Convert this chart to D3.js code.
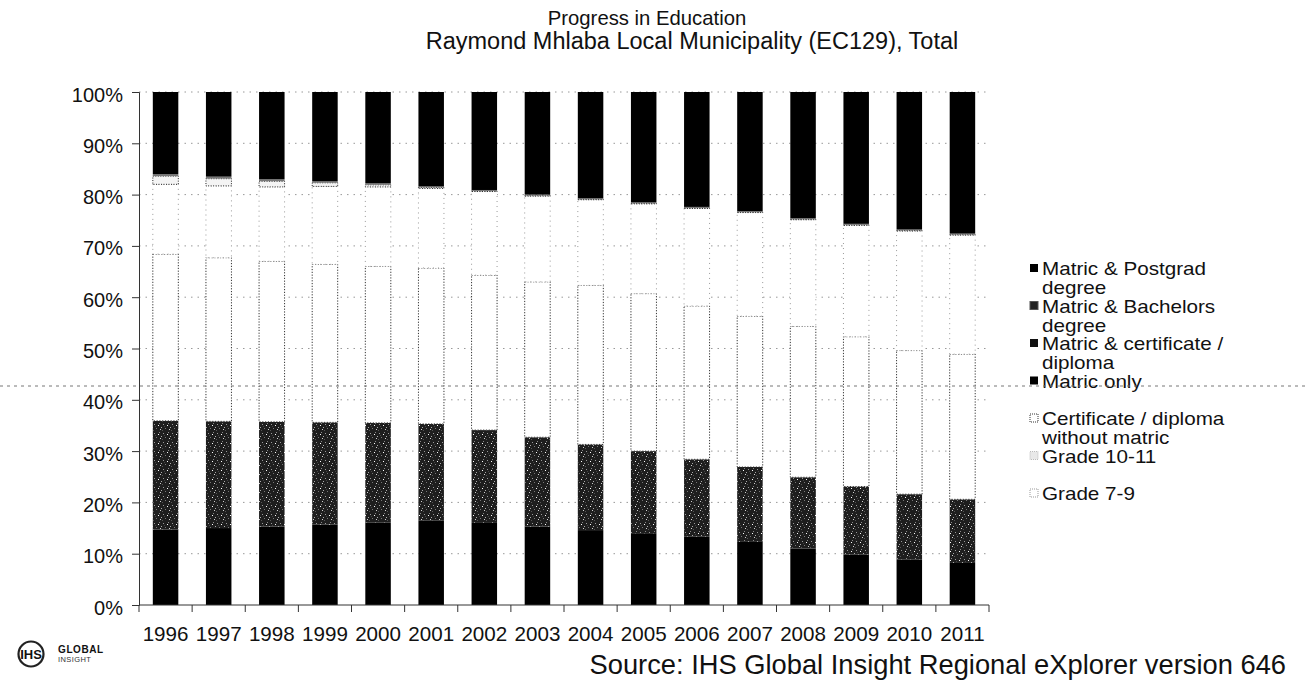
<!DOCTYPE html>
<html>
<head>
<meta charset="utf-8">
<script src="https://cdn.jsdelivr.net/npm/d3@7"></script>
<style>
  html, body { margin: 0; padding: 0; background: #fff; }
  svg { display: block; font-family: "Liberation Sans", Arial, sans-serif; }
</style>
</head>
<body>
<svg id="chart" width="1307" height="684"></svg>
<script>
// ---- data (percent of population, stacked bottom to top) ----
const years = ["1996","1997","1998","1999","2000","2001","2002","2003","2004","2005","2006","2007","2008","2009","2010","2011"];

const grade7to9        = [14.7,15.0,15.3,15.7,16.1,16.5,16.0,15.3,14.6,14.0,13.3,12.3,11.0, 9.8, 8.9, 8.2];
const grade10to11      = [21.2,20.8,20.4,19.9,19.4,18.8,18.1,17.4,16.7,16.0,15.1,14.6,13.9,13.3,12.7,12.4];
const certNoMatric     = [32.5,31.9,31.3,30.8,30.5,30.4,30.2,30.3,31.0,30.7,29.9,29.4,29.4,29.2,28.0,28.3];
const matricOnly       = [13.6,14.0,14.5,15.2,15.5,15.5,16.3,16.7,16.7,17.5,19.0,20.2,20.8,21.7,23.3,23.2];
const matricCert       = [ 1.6, 1.4, 1.1, 0.7, 0.4, 0.2, 0.1, 0.1, 0.1, 0.1, 0.1, 0.1, 0.1, 0.1, 0.1, 0.1];
const matricBachelors  = [ 0.4, 0.4, 0.4, 0.3, 0.3, 0.2, 0.2, 0.2, 0.2, 0.2, 0.2, 0.2, 0.2, 0.2, 0.2, 0.2];
const matricPostgrad   = [16.0,16.5,17.0,17.4,17.8,18.4,19.1,20.0,20.7,21.5,22.4,23.2,24.6,25.7,26.8,27.6];

const seriesKeys = ["g79","g1011","certNoMatric","matricOnly","matricCert","bachelors","postgrad"];
const seriesValues = [grade7to9, grade10to11, certNoMatric, matricOnly, matricCert, matricBachelors, matricPostgrad];

// legend, listed top to bottom as in the stack
const legendLabels = [
  ["Matric & Postgrad", "degree"],
  ["Matric & Bachelors", "degree"],
  ["Matric & certificate /", "diploma"],
  ["Matric only"],
  ["Certificate / diploma", "without matric"],
  ["Grade 10-11"],
  ["Grade 7-9"]
];
const yTickValues = [0,10,20,30,40,50,60,70,80,90,100];

const titleLine = "Progress in Education";
const subtitleLine = "Raymond Mhlaba Local Municipality (EC129), Total";
const sourceText = "Source: IHS Global Insight Regional eXplorer version 646";

// ---- layout ----
const svg = d3.select("#chart");
const W = 1307, H = 684;
const plot = { left: 139, top: 92, right: 989, bottom: 605 };
const FONT = "Liberation Sans, Arial, sans-serif";

const rows = years.map((yr, i) => {
  const r = { year: yr };
  seriesKeys.forEach((k, j) => r[k] = seriesValues[j][i]);
  return r;
});
const stacked = d3.stack().keys(seriesKeys)(rows);

const x = d3.scaleBand().domain(years)
  .range([plot.left, plot.right]).paddingInner(0.52).paddingOuter(0.26);
const y = d3.scaleLinear().domain([0, 100]).range([plot.bottom, plot.top]);

// ---- fills ----
const defs = svg.append("defs");
const speck = defs.append("pattern").attr("id", "speckle")
  .attr("width", 9).attr("height", 9).attr("patternUnits", "userSpaceOnUse");
speck.append("rect").attr("width", 9).attr("height", 9).attr("fill", "#1e1e1e");
[[1,1,"#9a9a9a"],[5,2,"#ffffff"],[3,5,"#777"],[7,6,"#cfcfcf"],[0,7,"#555"],[6,0,"#888"],[2,3,"#444"],[8,4,"#aaa"]]
  .forEach(([px, py, c]) => speck.append("rect").attr("x", px).attr("y", py)
    .attr("width", 1).attr("height", 1).attr("fill", c));

const fillOf = {
  g79: "#000", g1011: "url(#speckle)", certNoMatric: "#fff", matricOnly: "#fff",
  matricCert: "#f4f4f4", bachelors: "#777", postgrad: "#000"
};
const strokeOf = {
  g79: "none", g1011: "none", certNoMatric: "#333", matricOnly: "#999",
  matricCert: "#222", bachelors: "none", postgrad: "none"
};
const dashOf = {
  certNoMatric: "1.2,1.6", matricOnly: "1,4", matricCert: "1,1.5"
};

// ---- gridlines ----
svg.append("g").selectAll("line").data(yTickValues.filter(v => v > 0)).join("line")
  .attr("x1", plot.left).attr("x2", plot.right)
  .attr("y1", d => y(d)).attr("y2", d => y(d))
  .attr("stroke", "#999").attr("stroke-width", 1)
  .attr("stroke-dasharray", "1.5,5");

// ---- bars ----
svg.append("g").selectAll("g").data(stacked).join("g")
  .each(function(layer) {
    const k = layer.key;
    d3.select(this).selectAll("rect").data(layer).join("rect")
      .attr("x", d => x(d.data.year))
      .attr("width", x.bandwidth())
      .attr("y", d => y(d[1]))
      .attr("height", d => Math.max(0, y(d[0]) - y(d[1])))
      .attr("fill", fillOf[k])
      .attr("stroke", strokeOf[k])
      .attr("stroke-width", 1)
      .attr("stroke-dasharray", dashOf[k] || null);
  });

// ---- axes ----
const yAxis = d3.axisLeft(y).tickValues(yTickValues).tickFormat(d => d + "%")
  .tickSize(7).tickPadding(9);
svg.append("g").attr("transform", `translate(${plot.left},0)`).call(yAxis)
  .call(g => g.select(".domain").attr("stroke", "#333"))
  .call(g => g.selectAll(".tick line").attr("stroke", "#333"))
  .call(g => g.selectAll("text").attr("font-size", 20).attr("fill", "#111")
    .attr("font-family", FONT).attr("dy", "0.45em"));

const xAxis = d3.axisBottom(x).tickSize(0).tickPadding(21);
const gx = svg.append("g").attr("transform", `translate(0,${plot.bottom})`).call(xAxis);
gx.select(".domain").remove();
gx.selectAll("text").attr("font-size", 20.6).attr("fill", "#111").attr("font-family", FONT);
gx.append("line").attr("x1", plot.left).attr("x2", plot.right)
  .attr("y1", 0).attr("y2", 0).attr("stroke", "#333");
// tick marks on category boundaries
const boundaries = years.map(yr => x(yr) - x.step() * x.paddingOuter()).concat([plot.right]);
gx.selectAll("line.bound").data(boundaries).join("line").attr("class", "bound")
  .attr("x1", d => d).attr("x2", d => d).attr("y1", 0).attr("y2", 7)
  .attr("stroke", "#333");

// ---- title ----
svg.append("text").attr("x", 647).attr("y", 25)
  .attr("text-anchor", "middle").attr("font-size", 20.3).attr("fill", "#111")
  .text(titleLine);
svg.append("text").attr("x", 692).attr("y", 49)
  .attr("text-anchor", "middle").attr("font-size", 23.5).attr("fill", "#111")
  .text(subtitleLine);

// ---- legend ----
const swatchFill = ["#000", "#222", "#111", "#000", "#fff", "#e8e8e8", "#fff"];
const swatchStroke = ["none", "#555", "none", "none", "#333", "#bbb", "#999"];
const leg = svg.append("g").attr("transform", "translate(1030,0)");
const entry = leg.selectAll("g").data(legendLabels).join("g")
  .attr("transform", (d, i) => `translate(0,${269 + i * 37.5})`);
entry.append("rect").attr("x", 0).attr("y", -5).attr("width", 8).attr("height", 8)
  .attr("fill", (d, i) => swatchFill[i]).attr("stroke", (d, i) => swatchStroke[i])
  .attr("stroke-dasharray", (d, i) => i >= 4 ? "1,1" : null);
// wide, tightly set legend lettering
entry.selectAll("text").data(d => d).join("text")
  .attr("transform", (d, i) => `translate(12,${6 + i * 19}) scale(1.18,1)`)
  .attr("font-size", 17.5).attr("fill", "#111").text(d => d);

// ---- scanner streak across the page ----
svg.append("line").attr("x1", 0).attr("x2", W).attr("y1", 386).attr("y2", 386)
  .attr("stroke", "#777").attr("stroke-width", 1).attr("stroke-dasharray", "3,4");

// ---- source + logo ----
svg.append("text").attr("x", 1286).attr("y", 674).attr("text-anchor", "end")
  .attr("font-size", 27.3).attr("fill", "#111").text(sourceText);

const logo = svg.append("g");
logo.append("circle").attr("cx", 31).attr("cy", 654).attr("r", 12.5)
  .attr("fill", "none").attr("stroke", "#222").attr("stroke-width", 2.2);
logo.append("text").attr("x", 31).attr("y", 659).attr("text-anchor", "middle")
  .attr("font-size", 13).attr("font-weight", "bold").attr("fill", "#111").text("IHS");
logo.append("text").attr("x", 58).attr("y", 653)
  .attr("font-size", 10).attr("font-weight", "bold").attr("fill", "#111")
  .attr("letter-spacing", 0.6).text("GLOBAL");
logo.append("text").attr("x", 58).attr("y", 662)
  .attr("font-size", 7.5).attr("fill", "#333").attr("letter-spacing", 0.4).text("INSIGHT");
</script>
</body>
</html>
